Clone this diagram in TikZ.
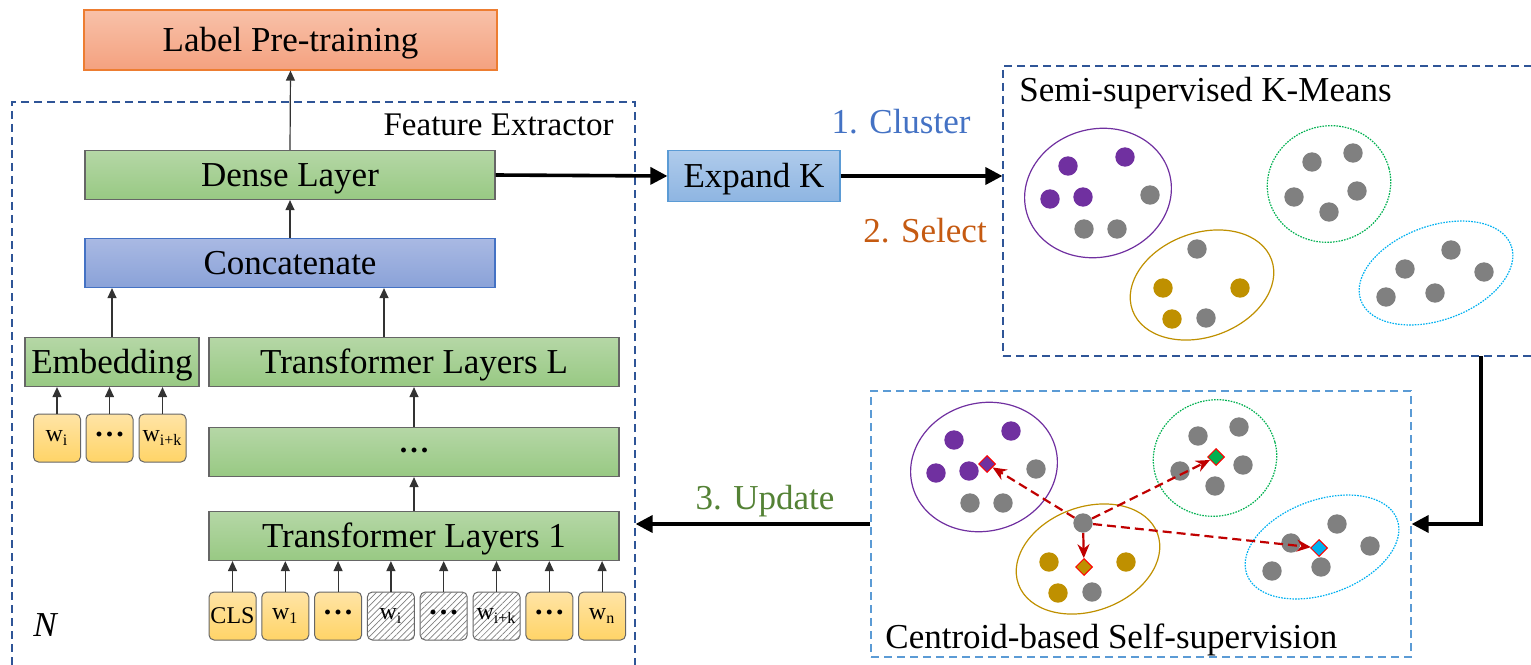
\documentclass[tikz,border=0pt]{standalone}
\usepackage{fontspec}
\setmainfont{Liberation Serif}
\usetikzlibrary{arrows.meta,shapes.geometric,patterns.meta}

\definecolor{greentop}{HTML}{B5D7A6}
\definecolor{greenbot}{HTML}{98C983}
\definecolor{bluetop}{HTML}{A9B9E3}
\definecolor{bluebot}{HTML}{8AA2D8}
\definecolor{bluedraw}{HTML}{4472C4}
\definecolor{orangetop}{HTML}{F8C1A9}
\definecolor{orangebot}{HTML}{F4A17F}
\definecolor{orangedraw}{HTML}{ED7D31}
\definecolor{skytop}{HTML}{AFCBEB}
\definecolor{skybot}{HTML}{8EB5E2}
\definecolor{skydraw}{HTML}{5B9BD5}
\definecolor{tokentop}{HTML}{FFE4A6}
\definecolor{tokenbot}{HTML}{FFD467}
\definecolor{darkdash}{HTML}{2F5597}
\definecolor{cpurple}{HTML}{7030A0}
\definecolor{cgold}{HTML}{BF9000}
\definecolor{cgreen}{HTML}{00B050}
\definecolor{ccyan}{HTML}{00B0F0}
\definecolor{cgray}{HTML}{808080}
\definecolor{arrowred}{HTML}{C00000}
\definecolor{txtorange}{HTML}{C55A11}
\definecolor{txtgreen}{HTML}{548235}

\newcommand{\bigfont}{\fontsize{17.5}{21}\selectfont}
\newcommand{\middots}{{\fontsize{15}{17}\selectfont\raisebox{0.22em}{\textbf{.\hspace{0.1em}.\hspace{0.1em}.}}}}

\tikzset{
  capcenter/.style={text height=11.5pt, text depth=0pt},
  layer/.style={draw=black!60, line width=0.6pt, top color=greentop, bottom color=greenbot,
    minimum width=205pt, minimum height=24.5pt, inner sep=0pt, font=\bigfont, capcenter},
  tokenbox/.style={draw=black!60, line width=0.5pt, rounded corners=2.5pt,
    minimum width=23.5pt, minimum height=24pt, inner sep=0pt, font=\fontsize{12}{14}\selectfont},
  token/.style={tokenbox, top color=tokentop, bottom color=tokenbot},
  masked/.style={tokenbox, fill=white,
    postaction={pattern={Lines[angle=45,distance=2.2pt,line width=0.35pt]}, pattern color=black!50}},
  up/.style={-{Triangle[length=5pt,width=4.5pt]}, line width=0.6pt, black!80},
  flow/.style={-{Triangle[length=8.5pt,width=8.5pt]}, line width=1.8pt},
  region/.style={draw=darkdash, line width=0.6pt, dash pattern=on 4pt off 2.5pt, inner sep=0pt},
  dot/.style={circle, fill=cgray, minimum size=9.7pt, inner sep=0pt},
  centroid/.style={diamond, draw=red, line width=0.5pt, minimum size=8.5pt, inner sep=0pt},
  pull/.style={-{Stealth[length=7pt,width=6pt]}, arrowred, line width=1.1pt, dash pattern=on 4.5pt off 2.5pt},
  edgeline/.style={line width=0.6pt}
}

% the four clusters, #1 is a prefix for the node names
\newcommand{\clusterset}[1]{%
  \draw[edgeline, cpurple, rotate around={15:(1098,193)}] (1098,193) ellipse (37pt and 32pt);
  \draw[edgeline, cgold, rotate around={20:(1202,285)}] (1202,285) ellipse (37pt and 26pt);
  \draw[edgeline, cgreen, dash pattern=on 0.8pt off 0.6pt, rotate around={15:(1329,184)}] (1329,184) ellipse (31pt and 29pt);
  \draw[edgeline, ccyan, dash pattern=on 0.8pt off 0.6pt, rotate around={20:(1436,273)}] (1436,273) ellipse (40pt and 23.5pt);
  \foreach \x/\y [count=\k] in {1068/166,1125/157,1050/199,1083/197}
    \node[dot, fill=cpurple] (#1p\k) at (\x,\y) {};
  \foreach \x/\y [count=\k] in {1150/195,1084/229,1117/229}
    \node[dot] (#1q\k) at (\x,\y) {};
  \node[dot] (#1c) at (1197,249) {};
  \foreach \x/\y [count=\k] in {1163/288,1240/288,1172/319}
    \node[dot, fill=cgold] (#1o\k) at (\x,\y) {};
  \node[dot] (#1r) at (1206,318) {};
  \foreach \x/\y [count=\k] in {1312/162,1353/153,1294/197,1357/191,1329/212}
    \node[dot] (#1g\k) at (\x,\y) {};
  \foreach \x/\y [count=\k] in {1405/269,1451/250,1484/272,1386/297,1435/293}
    \node[dot] (#1s\k) at (\x,\y) {};
}

\begin{document}
\begin{tikzpicture}[x=0.5pt,y=-0.5pt]
  \useasboundingbox (0,0) rectangle (1531,664);

  % dashed regions
  \node[region, minimum width=311.5pt, minimum height=289pt] (febox) at (323.5,391) {};
  \node[region, minimum width=271pt, minimum height=145pt] (kmbox) at (1274,211) {};
  \node[region, draw=skydraw, minimum width=270pt, minimum height=133pt] (csbox) at (1141,524) {};

  \node[anchor=east, inner sep=0pt, font=\fontsize{16.5}{20}\selectfont, capcenter] (fetext) at (614,124) {Feature Extractor};
  \node[anchor=west, inner sep=0pt, font=\bigfont, capcenter] (kmtext) at (1019,90) {Semi-supervised K-Means};
  \node[anchor=west, inner sep=0pt, font=\bigfont, capcenter] (cstext) at (885,637) {Centroid-based Self-supervision};
  \node[font=\bigfont\itshape, capcenter] (ntext) at (45,625) {N};

  % feature extractor
  \node[draw=orangedraw, line width=0.6pt, top color=orangetop, bottom color=orangebot,
    minimum width=206.5pt, minimum height=30pt, font=\bigfont, capcenter] (pre) at (290.5,40) {Label Pre-training};
  \node[layer] (dense) at (290,175) {Dense Layer};
  \node[layer, draw=bluedraw, top color=bluetop, bottom color=bluebot] (concat) at (290,263) {Concatenate};
  \node[layer, minimum width=87pt] (emb) at (112,362) {Embedding};
  \node[layer] (tll) at (414,362) {Transformer Layers L};
  \node[layer, text height=7pt] (mid) at (414,452) {\middots};
  \node[layer] (tl1) at (414,536) {Transformer Layers 1};

  \node[token] (e1) at (57,438) {w\textsubscript{i}};
  \node[token] (e2) at (109.5,438) {\middots};
  \node[token] (e3) at (162.5,438) {w\textsubscript{i+k}};

  \node[token] (t1) at (232.5,616) {CLS};
  \node[token] (t2) at (285.3,616) {w\textsubscript{1}};
  \node[token] (t3) at (338.1,616) {\middots};
  \node[masked] (t4) at (390.9,616) {w\textsubscript{i}};
  \node[masked] (t5) at (443.7,616) {\middots};
  \node[masked] (t6) at (496.5,616) {w\textsubscript{i+k}};
  \node[token] (t7) at (549.3,616) {\middots};
  \node[token] (t8) at (602.1,616) {w\textsubscript{n}};

  \foreach \n in {e1,e2,e3}
    \draw[up] (\n.north) -- (\n.north |- emb.south);
  \foreach \n in {t1,t2,t3,t4,t5,t6,t7,t8}
    \draw[up] (\n.north) -- (\n.north |- tl1.south);
  \draw[up] (tl1.north) -- (mid.south);
  \draw[up] (mid.north) -- (tll.south);
  \draw[up] ([xshift=-15pt]tll.north) -- ([xshift=-15pt]tll.north |- concat.south);
  \draw[up] (emb.north) -- (emb.north |- concat.south);
  \draw[up] (concat.north) -- (dense.south);
  \draw[up] (dense.north) -- (pre.south);

  % clustering
  \node[draw=skydraw, line width=0.6pt, top color=skytop, bottom color=skybot,
    minimum width=86pt, minimum height=25.5pt, font=\bigfont, capcenter] (expand) at (754,176) {Expand K};
  \draw[flow] (dense.east) -- (expand.west);
  \draw[flow] (expand.east) -- (expand.east -| kmbox.west);
  \node[text=bluedraw, font=\bigfont, capcenter] (step1) at (901,122) {1. Cluster};
  \node[text=txtorange, font=\bigfont, capcenter] (step2) at (925,231) {2. Select};
  \node[text=txtgreen, font=\bigfont, capcenter] (step3) at (765,498) {3. Update};

  \clusterset{t}
  \begin{scope}[shift={(-114,274)}]
    \clusterset{b}
  \end{scope}

  \node[centroid, fill=cpurple] (dpurple) at (987,464) {};
  \node[centroid, fill=cgold] (dgold) at (1084,567) {};
  \node[centroid, fill=cgreen] (dgreen) at (1216,457) {};
  \node[centroid, fill=ccyan] (dcyan) at (1319,548) {};
  \draw[pull] (bc) -- (dpurple);
  \draw[pull] (bc) -- (dgreen);
  \draw[pull] (bc) -- (dcyan);
  \draw[pull, solid] (bc) -- (dgold);

  \coordinate (kmout) at (1481,356);
  \draw[flow] (kmout) |- (csbox.east);
  \draw[flow] (csbox.west) -- (csbox.west -| febox.east);
\end{tikzpicture}
\end{document}
